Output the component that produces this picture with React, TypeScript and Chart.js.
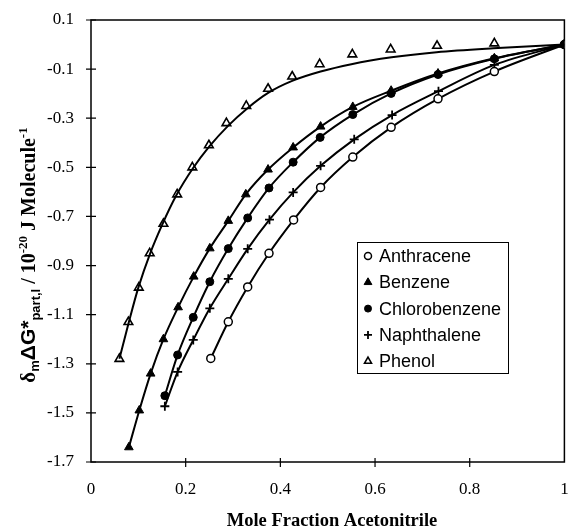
import React, { useEffect, useRef } from 'react';
import { Chart, registerables } from 'chart.js';
import { drawPoint } from 'chart.js/helpers';

Chart.register(...registerables);

// ---- data ----
const anthraceneX = [0.253, 0.29, 0.331, 0.376, 0.428, 0.485, 0.553, 0.634, 0.733, 0.852, 1.0];
const anthraceneY = [-1.278, -1.129, -0.987, -0.85, -0.714, -0.582, -0.458, -0.337, -0.221, -0.11, 0];

const benzeneX = [0.08, 0.102, 0.126, 0.153, 0.184, 0.217, 0.251, 0.29, 0.327, 0.374, 0.427, 0.485, 0.553, 0.634, 0.733, 0.852, 1.0];
const benzeneY = [-1.64, -1.49, -1.34, -1.2, -1.07, -0.945, -0.83, -0.718, -0.61, -0.509, -0.419, -0.334, -0.254, -0.188, -0.118, -0.056, 0];

const chlorobenzeneX = [0.156, 0.183, 0.216, 0.251, 0.29, 0.331, 0.376, 0.427, 0.484, 0.553, 0.634, 0.733, 0.852, 1.0];
const chlorobenzeneY = [-1.43, -1.264, -1.111, -0.966, -0.831, -0.706, -0.584, -0.479, -0.378, -0.285, -0.199, -0.122, -0.058, 0];

const naphthaleneX = [0.156, 0.183, 0.216, 0.251, 0.29, 0.331, 0.377, 0.427, 0.485, 0.556, 0.636, 0.734, 0.852, 1.0];
const naphthaleneY = [-1.473, -1.333, -1.203, -1.074, -0.954, -0.832, -0.713, -0.602, -0.494, -0.386, -0.287, -0.19, -0.083, 0];

const phenolX = [0.06, 0.079, 0.101, 0.124, 0.153, 0.182, 0.214, 0.249, 0.286, 0.328, 0.374, 0.425, 0.483, 0.552, 0.633, 0.731, 0.852, 1.0];
const phenolY = [-1.28, -1.13, -0.99, -0.85, -0.73, -0.61, -0.5, -0.41, -0.32, -0.25, -0.18, -0.13, -0.08, -0.04, -0.02, -0.005, 0.005, 0];

const phenolFitX = [0.06, 0.08, 0.1, 0.125, 0.15, 0.18, 0.215, 0.25, 0.29, 0.33, 0.375, 0.425, 0.485, 0.55, 0.635, 0.73, 0.85, 1.0];
const phenolFitY = [-1.28, -1.13, -0.99, -0.85, -0.735, -0.615, -0.505, -0.415, -0.33, -0.26, -0.196, -0.148, -0.11, -0.08, -0.052, -0.031, -0.015, 0];

const xTicks = [0, 0.2, 0.4, 0.6, 0.8, 1];
const yTicks = [0.1, -0.1, -0.3, -0.5, -0.7, -0.9, -1.1, -1.3, -1.5, -1.7];

const seriesNames = ['Anthracene', 'Benzene', 'Chlorobenzene', 'Naphthalene', 'Phenol'];

const xTitle = 'Mole Fraction Acetonitrile';

const pts = (xs: number[], ys: number[]) => xs.map((x, i) => ({ x, y: ys[i] }));

const SERIF = '"Liberation Serif", "Times New Roman", serif';
const SANS = '"Liberation Sans", Arial, sans-serif';

type Seg = { t: string; font: string; dy: number };

const yTitleSegs: Seg[] = [
  { t: 'δ', font: `bold 21px ${SERIF}`, dy: 0 },
  { t: 'm', font: `bold 13px ${SANS}`, dy: 4 },
  { t: 'ΔG*', font: `bold 21px ${SANS}`, dy: 0 },
  { t: 'part,l', font: `bold 13px ${SANS}`, dy: 5 },
  { t: ' / 10', font: `bold 20px ${SERIF}`, dy: 0 },
  { t: '-20', font: `bold 13px ${SERIF}`, dy: -8 },
  { t: ' J Molecule', font: `bold 20px ${SERIF}`, dy: 0 },
  { t: '-1', font: `bold 13px ${SERIF}`, dy: -8 },
];

const decorPlugin = {
  id: 'decor',
  beforeDatasetsDraw(chart: any) {
    const { ctx, chartArea: ca, scales } = chart;
    ctx.save();
    ctx.strokeStyle = '#000';
    ctx.lineWidth = 1.5;
    ctx.strokeRect(ca.left, ca.top, ca.right - ca.left, ca.bottom - ca.top);
    ctx.lineWidth = 1.2;
    ctx.beginPath();
    for (const v of yTicks) {
      const py = scales.y.getPixelForValue(v);
      ctx.moveTo(ca.left - 5, py);
      ctx.lineTo(ca.left + 5, py);
    }
    for (const v of xTicks) {
      if (v === 0 || v === 1) continue;
      const px = scales.x.getPixelForValue(v);
      ctx.moveTo(px, ca.bottom - 4);
      ctx.lineTo(px, ca.bottom + 5);
    }
    ctx.stroke();
    ctx.restore();
  },
  afterDraw(chart: any) {
    const { ctx } = chart;
    ctx.save();
    ctx.fillStyle = '#000';
    // x title
    ctx.font = `bold 18.5px ${SERIF}`;
    ctx.textAlign = 'center';
    ctx.textBaseline = 'middle';
    ctx.fillText(xTitle, 332, 521);

    // y title (rotated, rich)
    ctx.save();
    ctx.translate(35, 255);
    ctx.rotate(-Math.PI / 2);
    ctx.textAlign = 'left';
    ctx.textBaseline = 'alphabetic';
    let total = 0;
    for (const s of yTitleSegs) {
      ctx.font = s.font;
      total += ctx.measureText(s.t).width;
    }
    let x = -total / 2;
    for (const s of yTitleSegs) {
      ctx.font = s.font;
      ctx.fillText(s.t, x, s.dy);
      x += ctx.measureText(s.t).width;
    }
    ctx.restore();

    // legend
    const bx = 357, by = 242, bw = 151, bh = 131;
    ctx.fillStyle = '#fff';
    ctx.fillRect(bx, by, bw, bh);
    ctx.strokeStyle = '#000';
    ctx.lineWidth = 1;
    ctx.strokeRect(bx + 0.5, by + 0.5, bw, bh);
    const rowY0 = 256, rowStep = 26.3;
    const dsForLegend = chart.data.datasets.filter((d: any) => seriesNames.includes(d.label));
    dsForLegend.forEach((d: any, i: number) => {
      const cy = rowY0 + i * rowStep;
      ctx.strokeStyle = '#000';
      ctx.fillStyle = d.pointBackgroundColor;
      ctx.lineWidth = d.pointBorderWidth;
      drawPoint(ctx, { pointStyle: d.pointStyle, radius: d.legendRadius, rotation: 0, borderWidth: d.pointBorderWidth }, 368, cy);
      ctx.fillStyle = '#000';
      ctx.font = `18px ${SANS}`;
      ctx.textAlign = 'left';
      ctx.textBaseline = 'middle';
      ctx.fillText(d.label, 379, cy + 1);
    });
    ctx.restore();
  },
};

export default function App() {
  const ref = useRef<HTMLCanvasElement | null>(null);
  useEffect(() => {
    if (!ref.current) return;
    const base = {
      borderColor: '#000',
      borderWidth: 2,
      pointBorderColor: '#000',
      showLine: true,
      cubicInterpolationMode: 'monotone' as const,
    };
    const chart = new Chart(ref.current, {
      type: 'scatter',
      data: {
        datasets: [
          {
            ...base,
            label: 'Phenol fit',
            data: pts(phenolFitX, phenolFitY),
            pointRadius: 0,
            order: 3,
          },
          {
            ...base,
            label: 'Anthracene',
            data: pts(anthraceneX, anthraceneY),
            pointStyle: 'circle',
            pointRadius: 4,
            pointBackgroundColor: '#fff',
            pointBorderWidth: 1.5,
            legendRadius: 3.5,
            order: 2,
          } as any,
          {
            ...base,
            label: 'Benzene',
            data: pts(benzeneX, benzeneY),
            pointStyle: 'triangle',
            pointRadius: 5,
            pointBackgroundColor: '#000',
            pointBorderWidth: 1,
            legendRadius: 4.5,
            order: 1,
          } as any,
          {
            ...base,
            label: 'Chlorobenzene',
            data: pts(chlorobenzeneX, chlorobenzeneY),
            pointStyle: 'circle',
            pointRadius: 4,
            pointBackgroundColor: '#000',
            pointBorderWidth: 1,
            legendRadius: 3.5,
            order: 0,
          } as any,
          {
            ...base,
            label: 'Naphthalene',
            data: pts(naphthaleneX, naphthaleneY),
            pointStyle: 'cross',
            pointRadius: 4.5,
            pointBackgroundColor: '#000',
            pointBorderWidth: 1.8,
            legendRadius: 4,
            order: 2,
          } as any,
          {
            ...base,
            label: 'Phenol',
            data: pts(phenolX, phenolY),
            showLine: false,
            pointStyle: 'triangle',
            pointRadius: 5,
            pointBackgroundColor: '#fff',
            pointBorderWidth: 1.6,
            legendRadius: 4,
            order: 3,
          } as any,
        ],
      },
      options: {
        responsive: false,
        animation: false,
        layout: { padding: { left: 0, top: 20, right: 6, bottom: 0 } },
        plugins: { legend: { display: false }, tooltip: { enabled: false } },
        scales: {
          x: {
            type: 'linear',
            min: 0,
            max: 1,
            afterBuildTicks: (s: any) => { s.ticks = xTicks.map((v) => ({ value: v })); },
            afterFit: (s: any) => { s.height = 70; s.paddingLeft = 0; s.paddingRight = 0; },
            grid: { display: false, drawTicks: false },
            border: { display: false },
            ticks: {
              color: '#000',
              font: { family: SERIF, size: 17 },
              padding: 17,
              maxRotation: 0,
              callback: (v: any) => String(Number(v)),
            },
          },
          y: {
            type: 'linear',
            min: -1.7,
            max: 0.1,
            afterBuildTicks: (s: any) => { s.ticks = yTicks.map((v) => ({ value: v })); },
            afterFit: (s: any) => { s.width = 91; s.paddingTop = 0; s.paddingBottom = 0; },
            grid: { display: false, drawTicks: false },
            border: { display: false },
            ticks: {
              color: '#000',
              font: { family: SERIF, size: 17 },
              padding: 17,
              callback: (v: any) => Number(v).toFixed(1),
            },
          },
        },
      },
      plugins: [decorPlugin],
    });
    return () => chart.destroy();
  }, []);
  return (
    <div style={{ position: 'absolute', left: 0, top: 0, width: 571, height: 532, background: '#fff' }}>
      <canvas ref={ref} width={571} height={532} />
    </div>
  );
}
